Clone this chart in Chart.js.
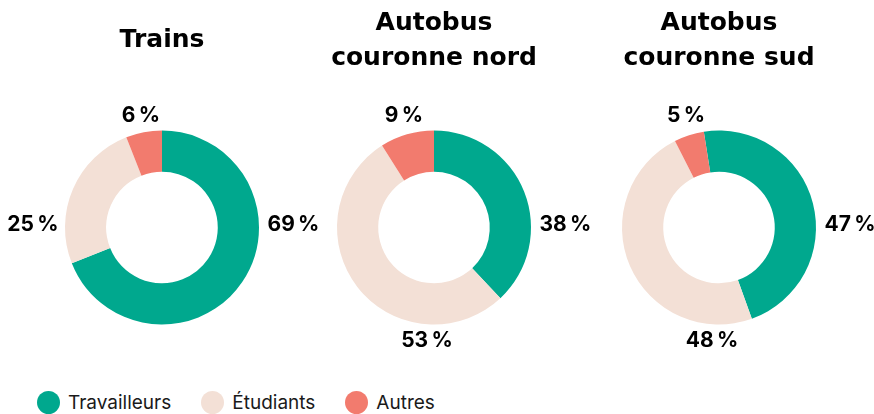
<!DOCTYPE html>
<html>
<head>
<meta charset="utf-8">
<script src="https://cdn.jsdelivr.net/npm/chart.js@4"></script>
<style>
  body { margin: 0; background: #fff; }
  #wrap { position: relative; width: 874px; height: 414px; overflow: hidden; }
  #wrap canvas { position: absolute; top: 0; }
  #legend { position: absolute; left: 37px; top: 391px; display: flex; align-items: center;
            font-family: Inter, sans-serif; font-size: 19px; color: #1a1a1a; }
  #legend .item { display: flex; align-items: center; margin-right: 30px; }
  #legend .dot { width: 23px; height: 23px; border-radius: 50%; margin-right: 8px; }
</style>
</head>
<body>
<div id="wrap">
  <canvas id="c1" width="340" height="370" style="left:-8.5px"></canvas>
  <canvas id="c2" width="340" height="370" style="left:264px"></canvas>
  <canvas id="c3" width="340" height="370" style="left:548.5px"></canvas>
  <div id="legend"></div>
</div>
<script>
var categories = ['Travailleurs', 'Étudiants', 'Autres'];
var colors = ['#00a88e', '#f3e0d6', '#f27b6e'];

var titles = [['Trains'], ['Autobus', 'couronne nord'], ['Autobus', 'couronne sud']];
var trains = [69, 25, 6];
var nord = [38, 53, 9];
var sud = [47, 48, 5];

// where each slice label goes, per chart
var placements = [['right', 'left', 'top'], ['right', 'bottom', 'top'], ['right', 'bottom', 'top']];
var rotations = [0, 0, -9];

var labelPlugin = {
    id: 'sliceLabels',
    afterDraw: function (chart, args, opts) {
        var ctx = chart.ctx;
        var meta = chart.getDatasetMeta(0);
        var values = chart.data.datasets[0].data;
        ctx.save();
        ctx.font = 'bold 21px Inter, sans-serif';
        ctx.fillStyle = '#000';
        ctx.textBaseline = 'middle';
        meta.data.forEach(function (arc, i) {
            var p = arc.getProps(['x', 'y', 'startAngle', 'endAngle', 'outerRadius'], true);
            var r = p.outerRadius;
            var txt = values[i] + '\u2009%';
            var where = opts.placement[i];
            var x, y;
            if (where == 'right') {
                ctx.textAlign = 'left';
                x = p.x + r + 8.5; y = p.y - 3;
            } else if (where == 'left') {
                ctx.textAlign = 'right';
                x = p.x - r - 6.5; y = p.y - 3;
            } else if (where == 'top') {
                ctx.textAlign = 'center';
                var mid = (p.startAngle + p.endAngle) / 2;
                x = p.x + r * Math.cos(mid) - 3; y = p.y - r - 15;
            } else {
                ctx.textAlign = 'center';
                x = p.x - 7; y = p.y + r + 16;
            }
            ctx.fillText(txt, x, y);
        });
        ctx.restore();
    }
};

var legend = document.getElementById('legend');
categories.forEach(function (name, i) {
    var item = document.createElement('div');
    item.className = 'item';
    item.innerHTML = '<span class="dot" style="background:' + colors[i] + '"></span><span>' + name + '</span>';
    legend.appendChild(item);
});

function makeDonut(id, idx, values) {
    var twoLines = titles[idx].length > 1;
    new Chart(document.getElementById(id), {
        type: 'doughnut',
        data: {
            labels: categories,
            datasets: [{
                data: values,
                backgroundColor: colors,
                borderWidth: 0
            }]
        },
        options: {
            responsive: false,
            animation: false,
            cutout: '57.5%',
            rotation: rotations[idx],
            layout: { padding: { top: 0, bottom: 45.5, left: 0, right: 0 } },
            plugins: {
                legend: { display: false },
                tooltip: { enabled: false },
                title: {
                    display: true,
                    text: titles[idx],
                    color: '#000',
                    font: { family: "'DejaVu Sans', Inter, sans-serif", size: 25, weight: 'bold', lineHeight: 1.4 },
                    padding: twoLines ? { top: 5.5, bottom: 55 } : { top: 22.5, bottom: 73 }
                },
                sliceLabels: { placement: placements[idx] }
            }
        },
        plugins: [labelPlugin]
    });
}

makeDonut('c1', 0, trains);
makeDonut('c2', 1, nord);
makeDonut('c3', 2, sud);
</script>
</body>
</html>
